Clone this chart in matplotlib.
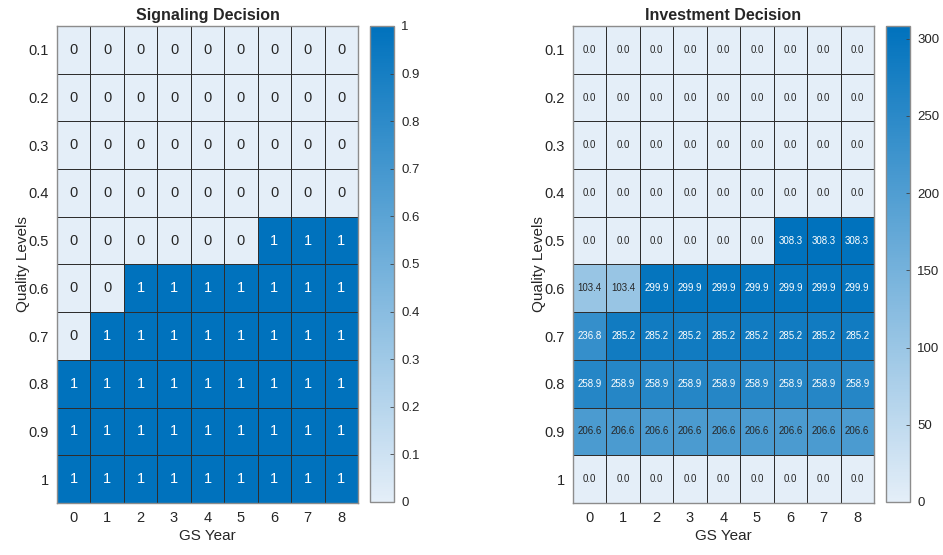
import numpy as np
import matplotlib
matplotlib.use("Agg")
import matplotlib.pyplot as plt
from matplotlib.colors import LinearSegmentedColormap, Normalize
from matplotlib.ticker import FuncFormatter

plt.rcParams['font.family'] = ['Liberation Sans', 'DejaVu Sans']

gs_years = [0, 1, 2, 3, 4, 5, 6, 7, 8]
quality_levels = ['0.1', '0.2', '0.3', '0.4', '0.5', '0.6', '0.7', '0.8', '0.9', '1']

signaling = [
    [0, 0, 0, 0, 0, 0, 0, 0, 0],
    [0, 0, 0, 0, 0, 0, 0, 0, 0],
    [0, 0, 0, 0, 0, 0, 0, 0, 0],
    [0, 0, 0, 0, 0, 0, 0, 0, 0],
    [0, 0, 0, 0, 0, 0, 1, 1, 1],
    [0, 0, 1, 1, 1, 1, 1, 1, 1],
    [0, 1, 1, 1, 1, 1, 1, 1, 1],
    [1, 1, 1, 1, 1, 1, 1, 1, 1],
    [1, 1, 1, 1, 1, 1, 1, 1, 1],
    [1, 1, 1, 1, 1, 1, 1, 1, 1],
]

investment = [
    [0.0] * 9,
    [0.0] * 9,
    [0.0] * 9,
    [0.0] * 9,
    [0.0, 0.0, 0.0, 0.0, 0.0, 0.0, 308.3, 308.3, 308.3],
    [103.4, 103.4, 299.9, 299.9, 299.9, 299.9, 299.9, 299.9, 299.9],
    [236.8, 285.2, 285.2, 285.2, 285.2, 285.2, 285.2, 285.2, 285.2],
    [258.9] * 9,
    [206.6] * 9,
    [0.0] * 9,
]

signal_ticks = [0, 0.1, 0.2, 0.3, 0.4, 0.5, 0.6, 0.7, 0.8, 0.9, 1]
invest_ticks = [0, 50, 100, 150, 200, 250, 300]

TEXT = '#262626'
cmap = LinearSegmentedColormap.from_list('sky', ['#E4EEF8', '#0072BD'])

fig = plt.figure(figsize=(9.43, 5.55), dpi=100)


def short_num(v, _pos=None):
    return '{:g}'.format(round(v, 6))


def heatmap(ax_rect, cb_rect, data, title, fmt, fontsize, cticks):
    data = np.asarray(data, dtype=float)
    ax = fig.add_axes(ax_rect)
    cax = fig.add_axes(cb_rect)
    norm = Normalize(vmin=data.min(), vmax=data.max())
    mesh = ax.pcolormesh(data, cmap=cmap, norm=norm,
                         edgecolors='#2e2e2e', linewidth=0.5)
    ax.set_xlim(0, data.shape[1])
    ax.set_ylim(data.shape[0], 0)
    for i in range(data.shape[0]):
        for j in range(data.shape[1]):
            v = data[i, j]
            color = 'white' if norm(v) > 0.7 else TEXT
            ax.text(j + 0.5, i + 0.5, fmt.format(v), ha='center', va='center',
                    fontsize=fontsize, color=color)
    ax.set_xticks(np.arange(data.shape[1]) + 0.5)
    ax.set_xticklabels([str(g) for g in gs_years])
    ax.set_yticks(np.arange(data.shape[0]) + 0.5)
    ax.set_yticklabels(quality_levels)
    ax.tick_params(length=0, labelsize=10.5, labelcolor=TEXT, pad=6)
    for s in ax.spines.values():
        s.set_edgecolor('#8c8c8c')
        s.set_linewidth(1.0)
    ax.set_xlabel('GS Year', fontsize=11, color=TEXT, labelpad=3)
    ax.set_ylabel('Quality Levels', fontsize=11, color=TEXT, labelpad=-1)
    ax.set_title(title, fontsize=11.5, fontweight='bold', color=TEXT, pad=4)

    cb = fig.colorbar(mesh, cax=cax)
    cb.set_ticks(cticks)
    cb.ax.yaxis.set_major_formatter(FuncFormatter(short_num))
    cb.ax.tick_params(direction='in', length=3, width=0.6, color='#404040',
                      labelsize=9.5, labelcolor=TEXT, pad=5)
    cb.outline.set_edgecolor('#8c8c8c')
    cb.outline.set_linewidth(1.0)
    return ax


heatmap([0.0604, 0.0937, 0.3192, 0.8595], [0.3924, 0.0955, 0.0255, 0.8577],
        signaling, 'Signaling Decision', '{:.0f}', 10.5, signal_ticks)
heatmap([0.6076, 0.0937, 0.3192, 0.8595], [0.9396, 0.0955, 0.0255, 0.8577],
        investment, 'Investment Decision', '{:.1f}', 7, invest_ticks)

fig.savefig('out.png', dpi=100, facecolor='white')
